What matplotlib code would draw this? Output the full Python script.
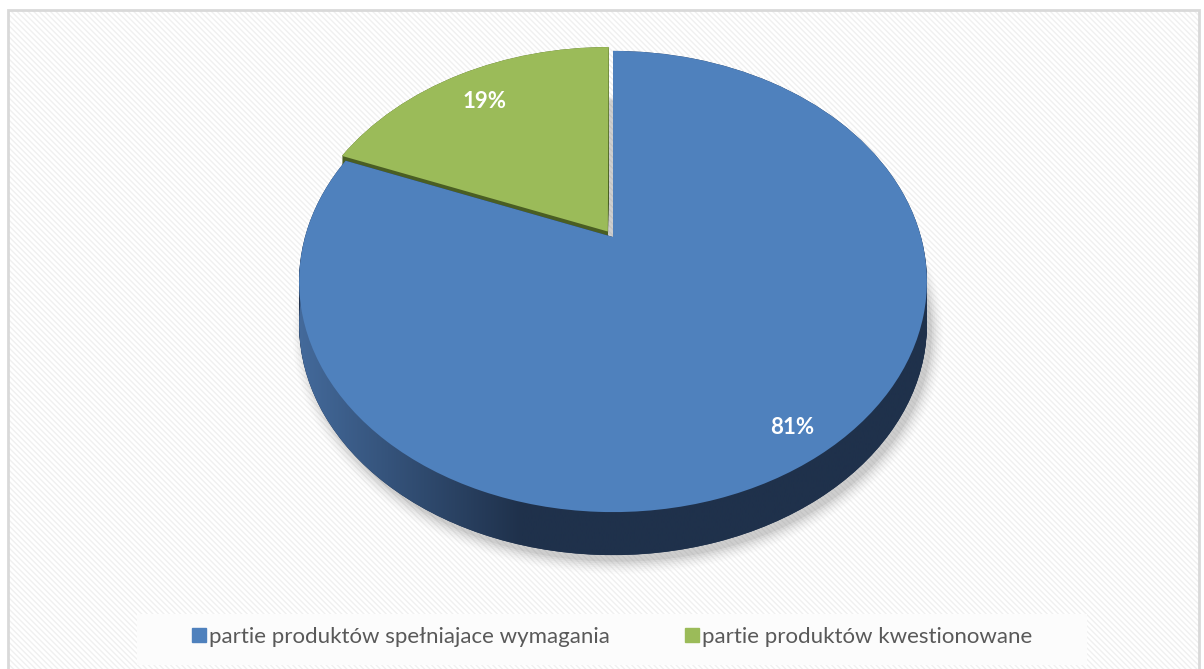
import numpy as np
import matplotlib
matplotlib.use("Agg")
import matplotlib.pyplot as plt
import matplotlib.transforms as mtransforms
from matplotlib.patches import Rectangle, Circle
from matplotlib.lines import Line2D

# ---- data ----
categories = ["partie produktów spełniajace wymagania", "partie produktów kwestionowane"]
values = [81, 19]
top_colors = ["#4f81bd", "#9bbb59"]
side_colors = ["#1f3250", "#4a5e23"]
explode = [0.0, 0.03]
label_dist = [0.89, 0.81]


class Perspective(mtransforms.Transform):
    """Simple tilt perspective for the pie disk (far side smaller)."""
    input_dims = 2
    output_dims = 2
    is_separable = False
    has_inverse = False

    def __init__(self, k):
        super().__init__()
        self.k = k

    def transform_non_affine(self, values):
        v = np.asarray(values, dtype=float)
        s = 1.0 / (1.0 + self.k * v[:, 1])
        return np.column_stack([v[:, 0] * s, v[:, 1] * s])


W, H = 1204, 669
fig = plt.figure(figsize=(W / 100, H / 100), dpi=100)
fig.patch.set_facecolor("white")

# background with diagonal stripes and frame
plt.rcParams["hatch.linewidth"] = 1.0
bg = Rectangle((8 / W, -0.01), (1199 - 8) / W, (H - 10) / H + 0.01,
               transform=fig.transFigure, facecolor="white", edgecolor="#f0f0f0",
               lw=0, hatch="\\" * 6, zorder=-3)
fig.patches.append(bg)
frame = Rectangle((8 / W, -0.01), (1199 - 8) / W, (H - 10) / H + 0.01,
                  transform=fig.transFigure, facecolor="none", edgecolor="#d9d9d9",
                  lw=2.0, zorder=-2)
fig.patches.append(frame)
# legend backdrop
legbox = Rectangle((137 / W, (H - 665) / H), (1087 - 137) / W, 51 / H,
                   transform=fig.transFigure, facecolor="#fcfcfc", edgecolor="none",
                   zorder=-1)
fig.patches.append(legbox)

ax = fig.add_axes([0, 0, 1, 1])
ax.patch.set_alpha(0)
ax.set_zorder(1)

k = 0.193
persp = Perspective(k)
A_px, B_px = 308, 222          # screen scale of one unit
cx, cy = 613, H - 237          # pie centre in pixels
depth = 43 / B_px              # pie thickness in screen units


def disk_tr(shift=0.0):
    return persp + mtransforms.Affine2D().translate(0, -shift) + ax.transData


# soft shadow
for r, a in zip(np.linspace(1.0, 1.035, 7), [0.12, 0.09, 0.07, 0.05, 0.04, 0.03, 0.02]):
    c = Circle((0.0, 0.0), r, facecolor="#7f7f7f", alpha=a, lw=0, zorder=0.5)
    ax.add_patch(c)
    c.set_transform(disk_tr(depth + 0.03) + mtransforms.Affine2D().translate(5, 0))

# side layers
bottom_wedges = None
for sh in np.linspace(depth, 0, 40):
    wds, _ = ax.pie(values, colors=side_colors, explode=explode, startangle=90,
                    counterclock=False, wedgeprops=dict(linewidth=0))
    for w in wds:
        w.set_zorder(1)
        w.set_transform(disk_tr(sh))
    if bottom_wedges is None:
        bottom_wedges = wds

# gradient on the front side of blue slice
xs = np.linspace(-1.05, 1.05, 400)
t = np.clip((xs + 1.05) / 0.75, 0, 1)
c0 = np.array([0x45, 0x6c, 0x9e]) / 255
c1 = np.array([0x1f, 0x31, 0x4b]) / 255
grad = (c0[None, :] * (1 - t[:, None]) + c1[None, :] * t[:, None])[None, :, :]
img = ax.imshow(grad, extent=[-1.05, 1.05, -1.5, 1.0], aspect="auto", zorder=1.5,
                interpolation="bilinear")
img.set_clip_path(bottom_wedges[0])

# top faces
wedges, texts, autotexts = ax.pie(values, colors=top_colors, explode=explode,
                                  startangle=90, counterclock=False,
                                  autopct="%1.0f%%", pctdistance=0.86,
                                  wedgeprops=dict(linewidth=0),
                                  textprops=dict(color="white", fontsize=16,
                                                 fontweight="bold", family="Lato"))
for w, t_, dist in zip(wedges, autotexts, label_dist):
    w.set_zorder(2)
    w.set_transform(disk_tr(0))
    mid = np.deg2rad((w.theta1 + w.theta2) / 2)
    t_.set_position((w.center[0] + dist * w.r * np.cos(mid),
                     w.center[1] + dist * w.r * np.sin(mid)))
    t_.set_zorder(3)
    t_.set_transform(disk_tr(0))

xmin = -cx / A_px
ax.set_xlim(xmin, xmin + W / A_px)
ymin = -cy / B_px
ax.set_ylim(ymin, ymin + H / B_px)
ax.set_aspect("auto")
ax.axis("off")

handles = [Line2D([], [], marker="s", linestyle="none", markersize=10,
                  markerfacecolor=c, markeredgecolor=c) for c in top_colors]
fig.legend(handles, categories, loc="center", bbox_to_anchor=(612 / W, (H - 637) / H),
           ncol=2, frameon=False, handlelength=0.6, handletextpad=0.15,
           columnspacing=3.4,
           prop=dict(family="Lato", size=16), labelcolor="#595959")

fig.savefig("out.png", dpi=100)
